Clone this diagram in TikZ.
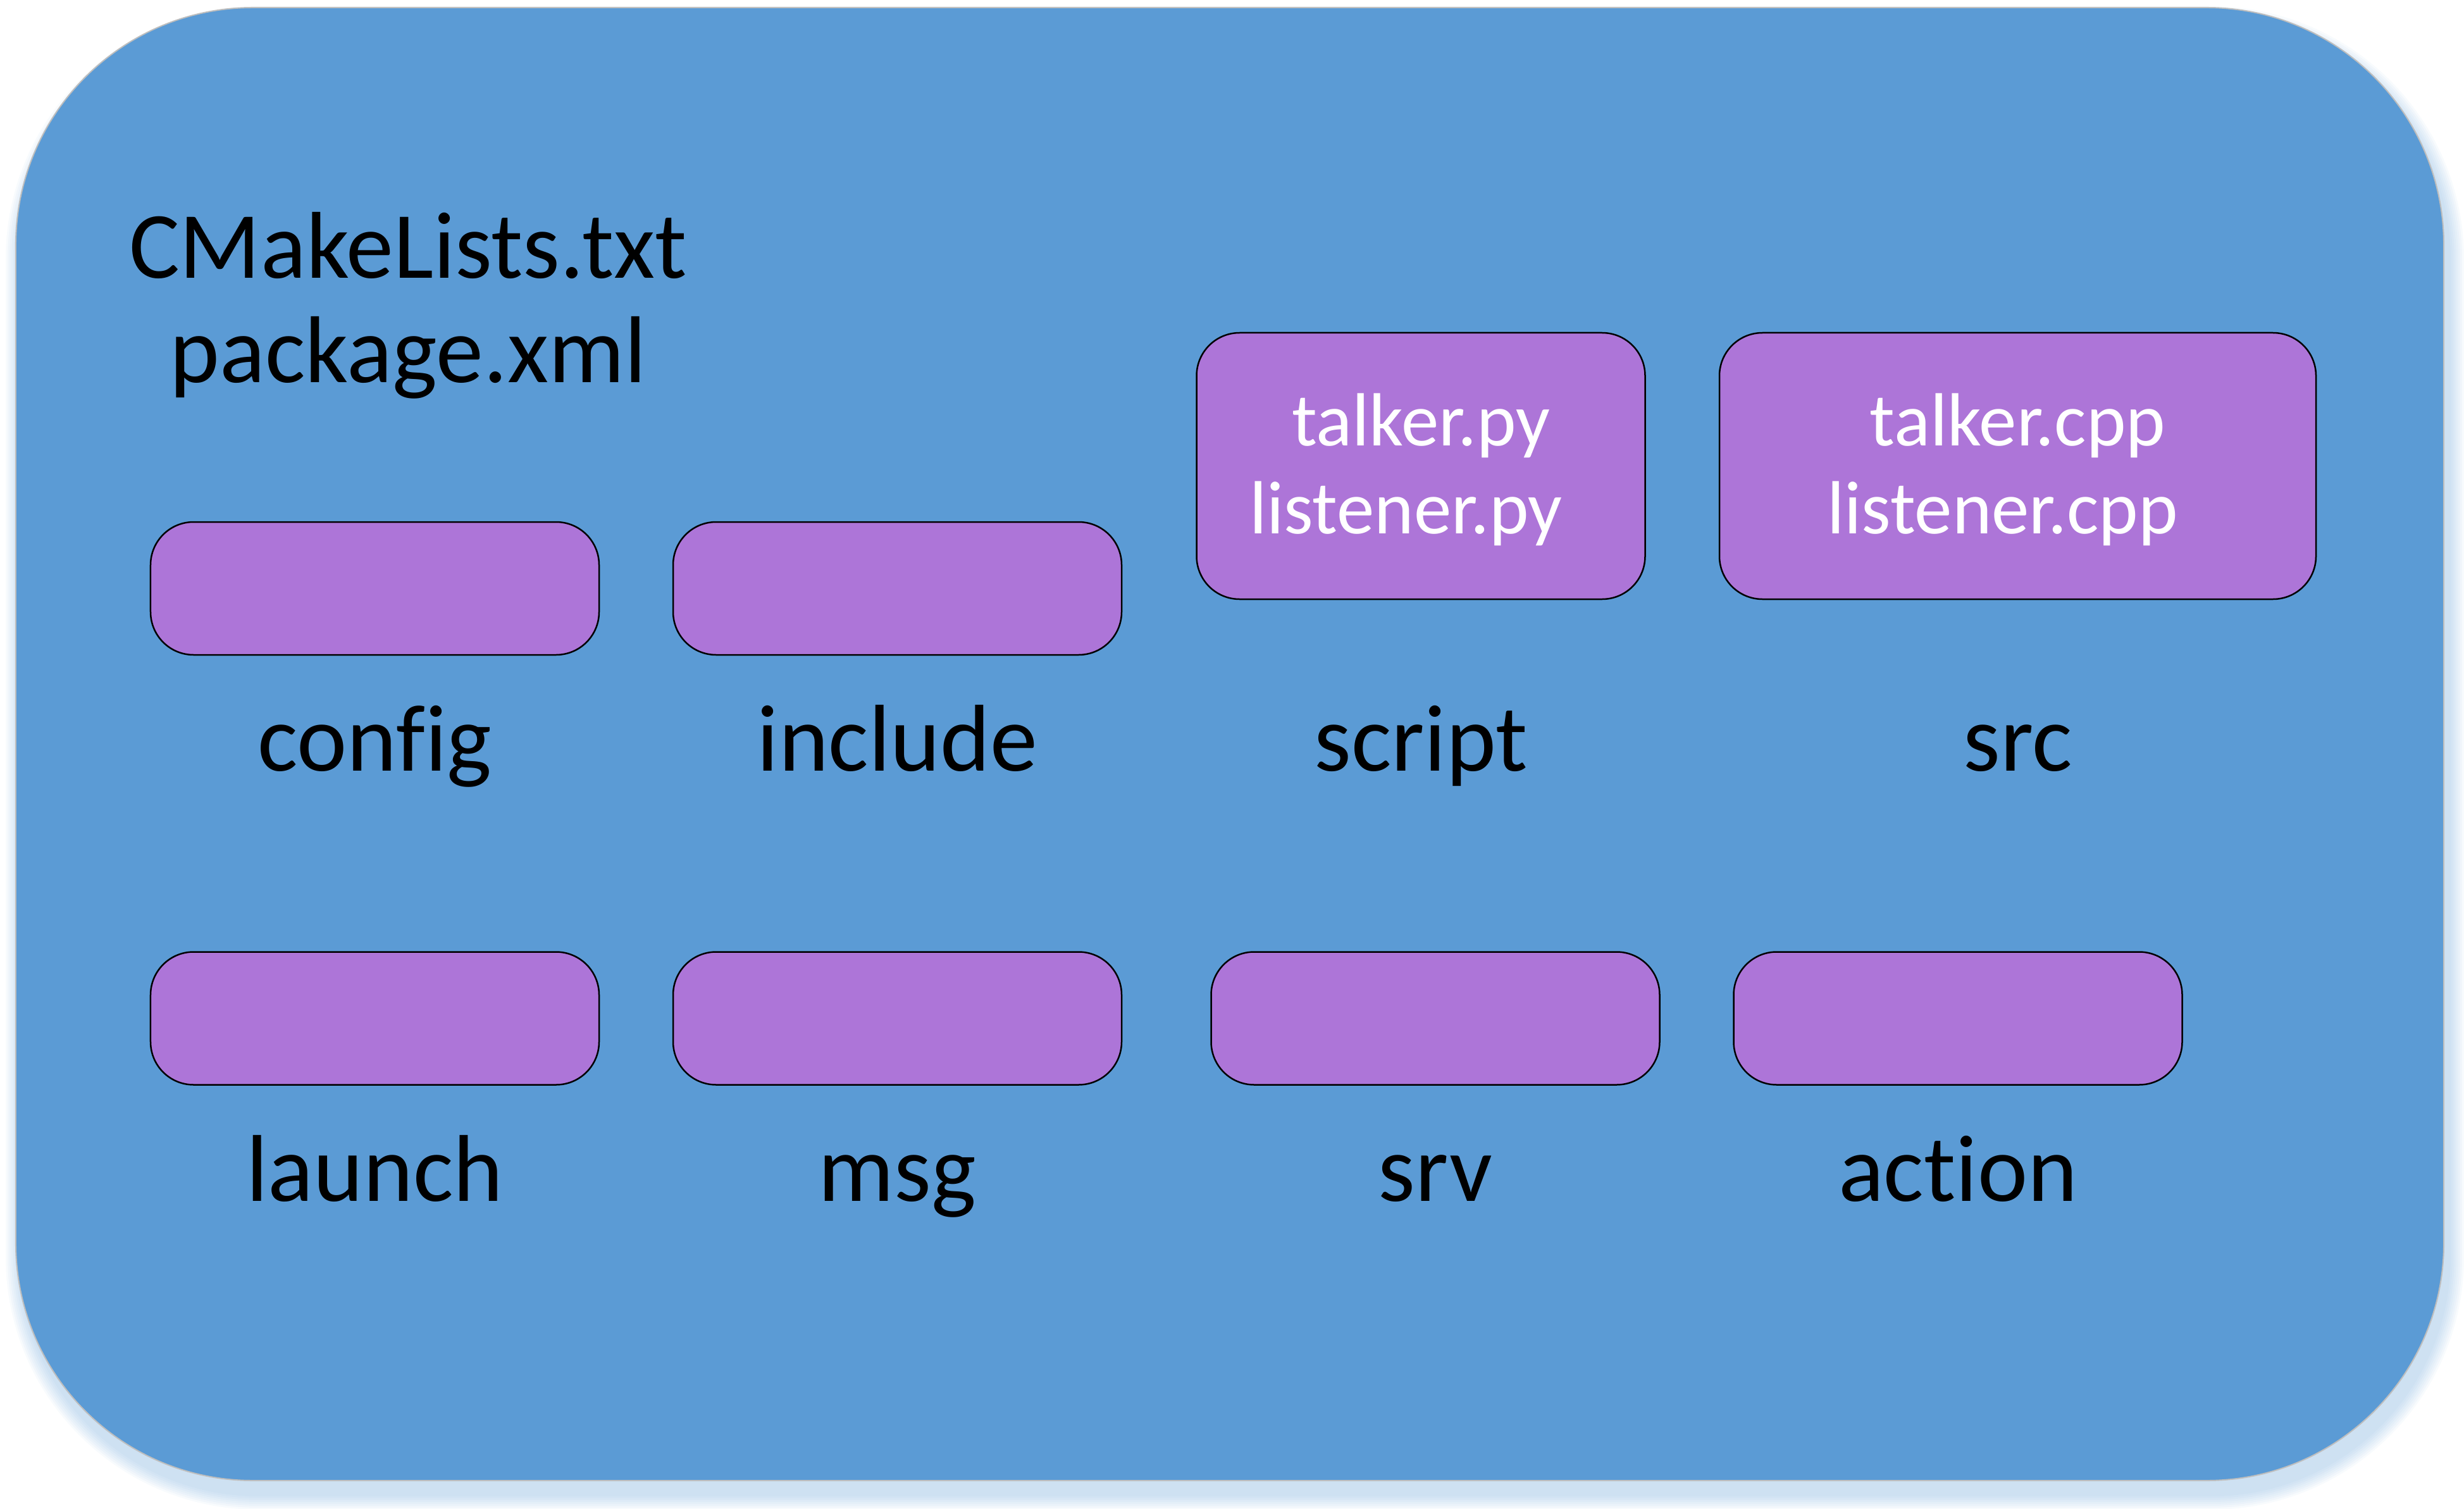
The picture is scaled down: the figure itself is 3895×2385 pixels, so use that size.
\documentclass[tikz,border=0pt]{standalone}
\usepackage{fontspec}
\setmainfont{Carlito}[Ligatures={NoCommon}]
\definecolor{pkgblue}{RGB}{91,155,213}
\definecolor{dirpurple}{RGB}{173,117,216}
\definecolor{pkgedge}{RGB}{190,190,190}
\tikzset{
  pkgbox/.style={draw=pkgedge, line width=0.4pt, fill=pkgblue, rounded corners=75pt,
    minimum width=767.6pt, minimum height=465.6pt, inner sep=0pt},
  dirbox/.style={draw=black, line width=0.5pt, fill=dirpurple, rounded corners=13.6pt,
    minimum width=141.8pt, minimum height=42pt, inner sep=0pt},
  tallbox/.style={dirbox, minimum height=84.2pt, text=white, align=center,
    font=\fontsize{23.8}{27.8}\selectfont},
  dirlabel/.style={anchor=base, inner sep=0pt, font=\fontsize{30}{33}\selectfont},
}
\begin{document}
\begin{tikzpicture}[x=0.2pt, y=-0.2pt]
\useasboundingbox (0,0) rectangle (3895,2385);
% soft bluish shadow
\foreach \i in {1,...,8}{
  \pgfmathsetmacro{\xa}{25-\i*3+8}
  \pgfmathsetmacro{\ya}{12-\i*3+22}
  \pgfmathsetmacro{\xb}{3863+\i*3+8}
  \pgfmathsetmacro{\yb}{2340+\i*3+22}
  \pgfmathsetmacro{\rr}{75+\i*0.6}
  \fill[pkgblue, opacity=0.045, rounded corners=\rr pt] (\xa,\ya) rectangle (\xb,\yb);
}
\node[pkgbox] (pkg) at (1944,1176) {};
% top-level files
\node[align=center, inner sep=0pt, font=\fontsize{30}{33}\selectfont] (files) at (645,483) {CMakeLists.txt\\package.xml};
% row 1
\node[dirbox] (config) at (592.5,930) {};
\node[dirbox] (include) at (1418.5,930) {};
\node[tallbox] (script) at (2246,736.5) {\rule{0pt}{19pt}talker.py\\listener.py\makebox[9.4pt]{}};
\node[tallbox, minimum width=188.6pt] (src) at (3189.5,736.5) {\rule{0pt}{19pt}talker.cpp\\listener.cpp\makebox[9.6pt]{}};
\node[dirlabel] (configl) at (592.5,1218) {config};
\node[dirlabel] (includel) at (1418.5,1218) {include};
\node[dirlabel] (scriptl) at (2246,1218) {script};
\node[dirlabel] (srcl) at (3189.5,1218) {src};
% row 2
\node[dirbox] (launch) at (592.5,1609.5) {};
\node[dirbox] (msg) at (1418.5,1609.5) {};
\node[dirbox] (srv) at (2269,1609.5) {};
\node[dirbox] (action) at (3095,1609.5) {};
\node[dirlabel] (launchl) at (592.5,1898) {launch};
\node[dirlabel] (msgl) at (1418.5,1898) {msg};
\node[dirlabel] (srvl) at (2269,1898) {srv};
\node[dirlabel] (actionl) at (3095,1898) {action};
\end{tikzpicture}
\end{document}
